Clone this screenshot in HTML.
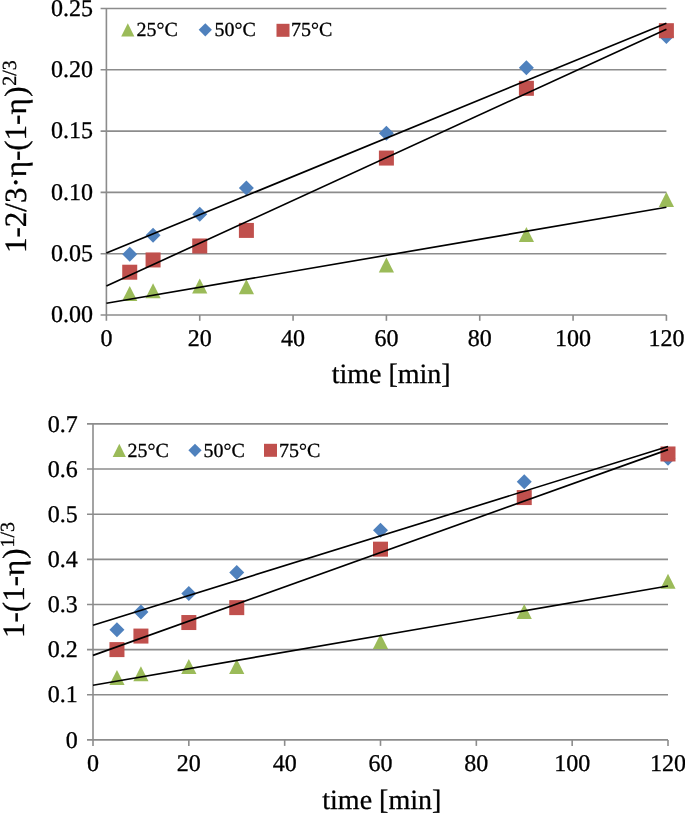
<!DOCTYPE html>
<html><head><meta charset="utf-8"><style>
html,body{margin:0;padding:0;background:#fff;width:685px;height:815px;overflow:hidden}
svg{display:block;will-change:transform}
text{font-family:"Liberation Serif", serif;fill:#000;stroke:#000;stroke-width:0.3px;text-rendering:geometricPrecision}
</style></head><body>
<svg width="685" height="815" viewBox="0 0 685 815">
<rect width="685" height="815" fill="#fff"/>
<line x1="100.60" y1="253.70" x2="666.40" y2="253.70" stroke="#8c8c8c" stroke-width="1.6"/>
<line x1="100.60" y1="192.40" x2="666.40" y2="192.40" stroke="#8c8c8c" stroke-width="1.6"/>
<line x1="100.60" y1="131.10" x2="666.40" y2="131.10" stroke="#8c8c8c" stroke-width="1.6"/>
<line x1="100.60" y1="69.80" x2="666.40" y2="69.80" stroke="#8c8c8c" stroke-width="1.6"/>
<line x1="100.60" y1="8.50" x2="666.40" y2="8.50" stroke="#8c8c8c" stroke-width="1.6"/>
<line x1="100.60" y1="315.00" x2="666.40" y2="315.00" stroke="#8c8c8c" stroke-width="1.6"/>
<line x1="106.40" y1="8.50" x2="106.40" y2="320.80" stroke="#8c8c8c" stroke-width="1.6"/>
<line x1="199.73" y1="315.00" x2="199.73" y2="320.80" stroke="#8c8c8c" stroke-width="1.6"/>
<line x1="293.07" y1="315.00" x2="293.07" y2="320.80" stroke="#8c8c8c" stroke-width="1.6"/>
<line x1="386.40" y1="315.00" x2="386.40" y2="320.80" stroke="#8c8c8c" stroke-width="1.6"/>
<line x1="479.73" y1="315.00" x2="479.73" y2="320.80" stroke="#8c8c8c" stroke-width="1.6"/>
<line x1="573.07" y1="315.00" x2="573.07" y2="320.80" stroke="#8c8c8c" stroke-width="1.6"/>
<line x1="666.40" y1="315.00" x2="666.40" y2="320.80" stroke="#8c8c8c" stroke-width="1.6"/>
<text x="92.90" y="322.30" text-anchor="end" font-size="24">0.00</text>
<text x="92.90" y="261.00" text-anchor="end" font-size="24">0.05</text>
<text x="92.90" y="199.70" text-anchor="end" font-size="24">0.10</text>
<text x="92.90" y="138.40" text-anchor="end" font-size="24">0.15</text>
<text x="92.90" y="77.10" text-anchor="end" font-size="24">0.20</text>
<text x="92.90" y="15.80" text-anchor="end" font-size="24">0.25</text>
<text x="106.40" y="345.70" text-anchor="middle" font-size="24">0</text>
<text x="199.73" y="345.70" text-anchor="middle" font-size="24">20</text>
<text x="293.07" y="345.70" text-anchor="middle" font-size="24">40</text>
<text x="386.40" y="345.70" text-anchor="middle" font-size="24">60</text>
<text x="479.73" y="345.70" text-anchor="middle" font-size="24">80</text>
<text x="573.07" y="345.70" text-anchor="middle" font-size="24">100</text>
<text x="666.40" y="345.70" text-anchor="middle" font-size="24">120</text>
<polygon points="129.73,285.92 137.33,300.92 122.13,300.92" fill="#9bbb59"/>
<polygon points="153.07,283.35 160.67,298.35 145.47,298.35" fill="#9bbb59"/>
<polygon points="199.73,278.57 207.33,293.57 192.13,293.57" fill="#9bbb59"/>
<polygon points="246.40,279.18 254.00,294.18 238.80,294.18" fill="#9bbb59"/>
<polygon points="386.40,257.48 394.00,272.48 378.80,272.48" fill="#9bbb59"/>
<polygon points="526.40,226.95 534.00,241.95 518.80,241.95" fill="#9bbb59"/>
<polygon points="666.40,191.89 674.00,206.89 658.80,206.89" fill="#9bbb59"/>
<polygon points="129.73,246.69 137.23,254.19 129.73,261.69 122.23,254.19" fill="#4f81bd"/>
<polygon points="153.07,227.81 160.57,235.31 153.07,242.81 145.57,235.31" fill="#4f81bd"/>
<polygon points="199.73,206.85 207.23,214.35 199.73,221.85 192.23,214.35" fill="#4f81bd"/>
<polygon points="246.40,180.49 253.90,187.99 246.40,195.49 238.90,187.99" fill="#4f81bd"/>
<polygon points="386.40,125.81 393.90,133.31 386.40,140.81 378.90,133.31" fill="#4f81bd"/>
<polygon points="526.40,60.34 533.90,67.84 526.40,75.34 518.90,67.84" fill="#4f81bd"/>
<polygon points="666.40,28.95 673.90,36.45 666.40,43.95 658.90,36.45" fill="#4f81bd"/>
<rect x="122.23" y="264.71" width="15" height="15" fill="#c0504d"/>
<rect x="145.57" y="252.45" width="15" height="15" fill="#c0504d"/>
<rect x="192.23" y="238.48" width="15" height="15" fill="#c0504d"/>
<rect x="238.90" y="222.91" width="15" height="15" fill="#c0504d"/>
<rect x="378.90" y="150.57" width="15" height="15" fill="#c0504d"/>
<rect x="518.90" y="80.81" width="15" height="15" fill="#c0504d"/>
<rect x="658.90" y="23.19" width="15" height="15" fill="#c0504d"/>
<line x1="106.40" y1="253.10" x2="666.40" y2="23.20" stroke="#000" stroke-width="1.65"/>
<line x1="106.40" y1="286.00" x2="666.40" y2="29.20" stroke="#000" stroke-width="1.65"/>
<line x1="106.40" y1="303.30" x2="666.40" y2="207.30" stroke="#000" stroke-width="1.65"/>
<polygon points="127.80,23.20 134.40,36.40 121.20,36.40" fill="#9bbb59"/>
<polygon points="205.30,23.20 211.90,29.80 205.30,36.40 198.70,29.80" fill="#4f81bd"/>
<rect x="276.50" y="23.80" width="13" height="13" fill="#c0504d"/>
<text x="136.60" y="35.80" font-size="20">25°C</text>
<text x="214.60" y="35.80" font-size="20">50°C</text>
<text x="291.00" y="35.80" font-size="20">75°C</text>
<text x="391.20" y="382.60" text-anchor="middle" font-size="28">time [min]</text>
<text transform="translate(26,253) rotate(-90)" font-size="31">1-2/3·η-(1-η<tspan dx="1.5">)</tspan><tspan font-size="20" dx="0.8" dy="-9.6">2/3</tspan></text>
<line x1="87.00" y1="694.76" x2="668.00" y2="694.76" stroke="#8c8c8c" stroke-width="1.6"/>
<line x1="87.00" y1="649.61" x2="668.00" y2="649.61" stroke="#8c8c8c" stroke-width="1.6"/>
<line x1="87.00" y1="604.47" x2="668.00" y2="604.47" stroke="#8c8c8c" stroke-width="1.6"/>
<line x1="87.00" y1="559.33" x2="668.00" y2="559.33" stroke="#8c8c8c" stroke-width="1.6"/>
<line x1="87.00" y1="514.19" x2="668.00" y2="514.19" stroke="#8c8c8c" stroke-width="1.6"/>
<line x1="87.00" y1="469.04" x2="668.00" y2="469.04" stroke="#8c8c8c" stroke-width="1.6"/>
<line x1="87.00" y1="423.90" x2="668.00" y2="423.90" stroke="#8c8c8c" stroke-width="1.6"/>
<line x1="87.00" y1="739.90" x2="668.00" y2="739.90" stroke="#8c8c8c" stroke-width="1.6"/>
<line x1="93.00" y1="423.90" x2="93.00" y2="745.90" stroke="#8c8c8c" stroke-width="1.6"/>
<line x1="188.83" y1="739.90" x2="188.83" y2="745.90" stroke="#8c8c8c" stroke-width="1.6"/>
<line x1="284.67" y1="739.90" x2="284.67" y2="745.90" stroke="#8c8c8c" stroke-width="1.6"/>
<line x1="380.50" y1="739.90" x2="380.50" y2="745.90" stroke="#8c8c8c" stroke-width="1.6"/>
<line x1="476.33" y1="739.90" x2="476.33" y2="745.90" stroke="#8c8c8c" stroke-width="1.6"/>
<line x1="572.17" y1="739.90" x2="572.17" y2="745.90" stroke="#8c8c8c" stroke-width="1.6"/>
<line x1="668.00" y1="739.90" x2="668.00" y2="745.90" stroke="#8c8c8c" stroke-width="1.6"/>
<text x="77.80" y="747.60" text-anchor="end" font-size="24">0</text>
<text x="77.80" y="702.46" text-anchor="end" font-size="24">0.1</text>
<text x="77.80" y="657.31" text-anchor="end" font-size="24">0.2</text>
<text x="77.80" y="612.17" text-anchor="end" font-size="24">0.3</text>
<text x="77.80" y="567.03" text-anchor="end" font-size="24">0.4</text>
<text x="77.80" y="521.89" text-anchor="end" font-size="24">0.5</text>
<text x="77.80" y="476.74" text-anchor="end" font-size="24">0.6</text>
<text x="77.80" y="431.60" text-anchor="end" font-size="24">0.7</text>
<text x="93.00" y="771.00" text-anchor="middle" font-size="24">0</text>
<text x="188.83" y="771.00" text-anchor="middle" font-size="24">20</text>
<text x="284.67" y="771.00" text-anchor="middle" font-size="24">40</text>
<text x="380.50" y="771.00" text-anchor="middle" font-size="24">60</text>
<text x="476.33" y="771.00" text-anchor="middle" font-size="24">80</text>
<text x="572.17" y="771.00" text-anchor="middle" font-size="24">100</text>
<text x="668.00" y="771.00" text-anchor="middle" font-size="24">120</text>
<polygon points="116.96,670.10 124.56,685.10 109.36,685.10" fill="#9bbb59"/>
<polygon points="140.92,666.18 148.52,681.18 133.32,681.18" fill="#9bbb59"/>
<polygon points="188.83,658.91 196.43,673.91 181.23,673.91" fill="#9bbb59"/>
<polygon points="236.75,658.91 244.35,673.91 229.15,673.91" fill="#9bbb59"/>
<polygon points="380.50,633.99 388.10,648.99 372.90,648.99" fill="#9bbb59"/>
<polygon points="524.25,604.10 531.85,619.10 516.65,619.10" fill="#9bbb59"/>
<polygon points="668.00,573.81 675.60,588.81 660.40,588.81" fill="#9bbb59"/>
<polygon points="116.96,622.30 124.46,629.80 116.96,637.30 109.46,629.80" fill="#4f81bd"/>
<polygon points="140.92,604.60 148.42,612.10 140.92,619.60 133.42,612.10" fill="#4f81bd"/>
<polygon points="188.83,586.09 196.33,593.59 188.83,601.09 181.33,593.59" fill="#4f81bd"/>
<polygon points="236.75,564.92 244.25,572.42 236.75,579.92 229.25,572.42" fill="#4f81bd"/>
<polygon points="380.50,522.80 388.00,530.30 380.50,537.80 373.00,530.30" fill="#4f81bd"/>
<polygon points="524.25,474.36 531.75,481.86 524.25,489.36 516.75,481.86" fill="#4f81bd"/>
<polygon points="668.00,450.71 675.50,458.21 668.00,465.71 660.50,458.21" fill="#4f81bd"/>
<rect x="109.46" y="642.11" width="15" height="15" fill="#c0504d"/>
<rect x="133.42" y="628.57" width="15" height="15" fill="#c0504d"/>
<rect x="181.33" y="615.03" width="15" height="15" fill="#c0504d"/>
<rect x="229.25" y="600.13" width="15" height="15" fill="#c0504d"/>
<rect x="373.00" y="541.67" width="15" height="15" fill="#c0504d"/>
<rect x="516.75" y="490.07" width="15" height="15" fill="#c0504d"/>
<rect x="660.50" y="446.47" width="15" height="15" fill="#c0504d"/>
<line x1="93.00" y1="625.30" x2="668.00" y2="446.50" stroke="#000" stroke-width="1.65"/>
<line x1="93.00" y1="655.40" x2="668.00" y2="449.60" stroke="#000" stroke-width="1.65"/>
<line x1="93.00" y1="685.20" x2="668.00" y2="586.00" stroke="#000" stroke-width="1.65"/>
<polygon points="119.30,443.70 125.90,456.90 112.70,456.90" fill="#9bbb59"/>
<polygon points="195.00,443.70 201.60,450.30 195.00,456.90 188.40,450.30" fill="#4f81bd"/>
<rect x="264.00" y="443.80" width="13" height="13" fill="#c0504d"/>
<text x="127.50" y="456.50" font-size="20">25°C</text>
<text x="203.50" y="456.50" font-size="20">50°C</text>
<text x="279.00" y="456.50" font-size="20">75°C</text>
<text x="381.80" y="809.20" text-anchor="middle" font-size="28">time [min]</text>
<text transform="translate(24,638) rotate(-90)" font-size="31">1-(1-η<tspan dx="1">)</tspan><tspan font-size="20" dx="1" dy="-9.6">1/3</tspan></text>
</svg>
</body></html>
